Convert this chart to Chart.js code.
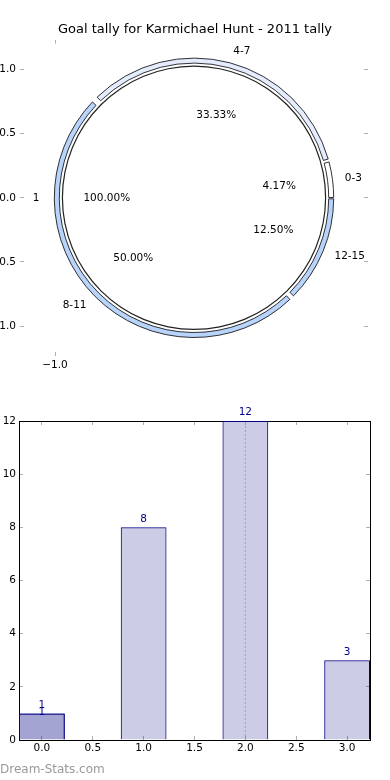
<!DOCTYPE html>
<html>
<head>
<meta charset="utf-8">
<script src="https://cdn.jsdelivr.net/npm/chart.js@4.4.0/dist/chart.umd.min.js"></script>
<style>
  body { margin: 0; background: #fff; width: 390px; height: 780px; position: relative; overflow: hidden; }
  #pieChart { position: absolute; left: 0; top: 0; }
  #barChart { position: absolute; left: 0; top: 390px; }
  #mark { position: absolute; left: 0; top: 762px; font: 12px 'DejaVu Sans', sans-serif; color: #999; }
</style>
</head>
<body>
<canvas id="pieChart" width="390" height="380"></canvas>
<canvas id="barChart" width="390" height="390"></canvas>
<div id="mark">Dream-Stats.com</div>
<script>
const pieTitle = 'Goal tally for Karmichael Hunt - 2011 tally';
// outer ring, listed clockwise starting from 3 o'clock
const ringLabels = ['12-15', '8-11', '4-7', '0-3'];
const ringValues = [3, 12, 8, 1];
const ringColors = ['#b9d4fb', '#b9d4fb', '#e4ecfd', '#ffffff'];
const innerLabels = ['1'];
const innerValues = [1];
const pieXTicks = [-1];
const pieYTicks = [-1, -0.5, 0, 0.5, 1];

const barX = [0, 1, 2, 3];
const barY = [1, 8, 12, 3];
const highlightX = [0];
const highlightY = [1];
const markerX = 2;
const barXTicks = [0, 0.5, 1, 1.5, 2, 2.5, 3];
const barYTicks = [0, 2, 4, 6, 8, 10, 12];

Chart.defaults.font.family = "'DejaVu Sans', sans-serif";
Chart.defaults.font.size = 10.5;
Chart.defaults.color = '#000';

const gridStyle = { drawOnChartArea: false, drawTicks: true, tickLength: -4, color: '#b0b0b0', lineWidth: 1 };
const fmt = v => (v < 0 ? '\u2212' : '') + Math.abs(v).toFixed(1);
const blank = () => '';

const pieLabels = {
    id: 'pieLabels',
    afterDatasetsDraw(chart) {
        const ctx = chart.ctx;
        // radius of the black outline ring = one pie unit
        const unit = chart.getDatasetMeta(1).data[0].outerRadius;
        ctx.save();
        ctx.font = "10.5px 'DejaVu Sans'";
        ctx.fillStyle = '#000';
        ctx.textBaseline = 'middle';
        chart.data.datasets.forEach((ds, i) => {
            if (!ds.names) return;
            const total = ds.data.reduce((a, b) => a + b, 0);
            chart.getDatasetMeta(i).data.forEach((arc, j) => {
                const mid = (arc.startAngle + arc.endAngle) / 2;
                const cos = Math.cos(mid), sin = Math.sin(mid);
                const lr = unit * ds.labelDistance;
                const pr = unit * ds.pctDistance;
                ctx.textAlign = cos > 0 ? 'left' : 'right';
                ctx.fillText(ds.names[j], arc.x + cos * lr, arc.y + sin * lr);
                ctx.textAlign = 'center';
                ctx.fillText((ds.data[j] / total * 100).toFixed(2) + '%', arc.x + cos * pr, arc.y + sin * pr);
            });
        });
        ctx.restore();
    }
};

new Chart(document.getElementById('pieChart'), {
    type: 'pie',
    data: {
        labels: ringLabels,
        datasets: [
            {
                data: ringValues, names: ringLabels,
                backgroundColor: ringColors, borderColor: '#000', borderWidth: 0.8,
                offset: 0, spacing: 5, weight: 5, labelDistance: 1.15, pctDistance: 0.65
            },
            {
                // outline of the inner disc
                data: innerValues, backgroundColor: '#222', borderWidth: 0, weight: 1.2
            },
            {
                data: innerValues, names: innerLabels,
                backgroundColor: '#fff', borderWidth: 0,
                weight: 131, labelDistance: 1.17, pctDistance: 0.66
            }
        ]
    },
    options: {
        responsive: false,
        animation: false,
        rotation: 90,
        radius: 137.2,
        layout: { padding: 0 },
        plugins: {
            legend: { display: false },
            tooltip: { enabled: false },
            title: {
                display: true, text: pieTitle, color: '#000',
                font: { size: 13, weight: 'normal' },
                padding: { top: 22, bottom: 2 }
            }
        },
        scales: {
            x: {
                type: 'linear', axis: 'x', position: 'bottom', min: -1.252, max: 1.252,
                afterBuildTicks: s => { s.ticks = pieXTicks.map(v => ({ value: v })); },
                afterFit: s => { s.height = 24; },
                ticks: { callback: fmt, padding: 7, maxRotation: 0 },
                grid: gridStyle, border: { display: false }
            },
            x2: {
                type: 'linear', axis: 'x', position: 'top', min: -1.252, max: 1.252,
                afterBuildTicks: s => { s.ticks = pieXTicks.map(v => ({ value: v })); },
                afterFit: s => { s.height = 0; },
                ticks: { callback: blank },
                grid: gridStyle, border: { display: false }
            },
            y: {
                type: 'linear', axis: 'y', position: 'left', min: -1.234, max: 1.234,
                afterBuildTicks: s => { s.ticks = pieYTicks.map(v => ({ value: v })); },
                afterFit: s => { s.width = 20; },
                ticks: { callback: fmt, padding: 8 },
                grid: gridStyle, border: { display: false }
            },
            y2: {
                type: 'linear', axis: 'y', position: 'right', min: -1.234, max: 1.234,
                afterBuildTicks: s => { s.ticks = pieYTicks.map(v => ({ value: v })); },
                afterFit: s => { s.width = 22; },
                ticks: { callback: blank },
                grid: gridStyle, border: { display: false }
            }
        }
    },
    plugins: [pieLabels]
});

const barLabels = {
    id: 'barLabels',
    afterDatasetsDraw(chart) {
        const ctx = chart.ctx;
        ctx.save();
        ctx.font = "10.5px 'DejaVu Sans'";
        ctx.fillStyle = '#00008b';
        ctx.textAlign = 'center';
        ctx.textBaseline = 'bottom';
        chart.data.datasets.forEach((ds, i) => {
            if (ds.labelGap === undefined) return;
            chart.getDatasetMeta(i).data.forEach((bar, j) => {
                ctx.fillText(String(ds.data[j].y), bar.x, bar.y - ds.labelGap);
            });
        });
        ctx.restore();
    }
};

// bar width is measured against the 0.5 tick spacing, so 0.9 gives 0.45 data units
const barStyle = {
    backgroundColor: 'rgba(0, 0, 128, 0.2)',
    borderColor: '#000080',
    borderWidth: 1,
    grouped: false,
    barPercentage: 0.9,
    categoryPercentage: 1
};
const frame = { display: true, color: '#000', width: 1 };

new Chart(document.getElementById('barChart'), {
    type: 'bar',
    data: {
        datasets: [
            { data: highlightX.map((x, i) => ({ x: x, y: highlightY[i] })), labelGap: -4, ...barStyle },
            { data: barX.map((x, i) => ({ x: x, y: barY[i] })), labelGap: 3, ...barStyle },
            {
                type: 'line', order: -1,
                data: [{ x: markerX, y: barYTicks[0] }, { x: markerX, y: barYTicks[barYTicks.length - 1] }],
                borderColor: '#a0a0a0', borderWidth: 1, borderDash: [2, 2], pointRadius: 0
            }
        ]
    },
    options: {
        responsive: false,
        animation: false,
        layout: { padding: 0 },
        plugins: { legend: { display: false }, tooltip: { enabled: false } },
        scales: {
            x: {
                type: 'linear', axis: 'x', position: 'bottom', min: -0.225, max: 3.225, offset: false,
                afterBuildTicks: s => { s.ticks = barXTicks.map(v => ({ value: v })); },
                afterFit: s => { s.height = 40; },
                ticks: { callback: fmt, padding: 6, maxRotation: 0, autoSkip: false },
                grid: { ...gridStyle, offset: false }, border: frame
            },
            x2: {
                type: 'linear', axis: 'x', position: 'top', min: -0.225, max: 3.225, offset: false,
                afterBuildTicks: s => { s.ticks = barXTicks.map(v => ({ value: v })); },
                afterFit: s => { s.height = 31; },
                ticks: { callback: blank },
                grid: { ...gridStyle, offset: false }, border: frame
            },
            y: {
                type: 'linear', axis: 'y', position: 'left', min: 0, max: 12,
                afterBuildTicks: s => { s.ticks = barYTicks.map(v => ({ value: v })); },
                afterFit: s => { s.width = 19; },
                ticks: { padding: 7 },
                grid: gridStyle, border: frame
            },
            y2: {
                type: 'linear', axis: 'y', position: 'right', min: 0, max: 12,
                afterBuildTicks: s => { s.ticks = barYTicks.map(v => ({ value: v })); },
                afterFit: s => { s.width = 20; },
                ticks: { callback: blank },
                grid: gridStyle, border: frame
            }
        }
    },
    plugins: [barLabels]
});
</script>
</body>
</html>
